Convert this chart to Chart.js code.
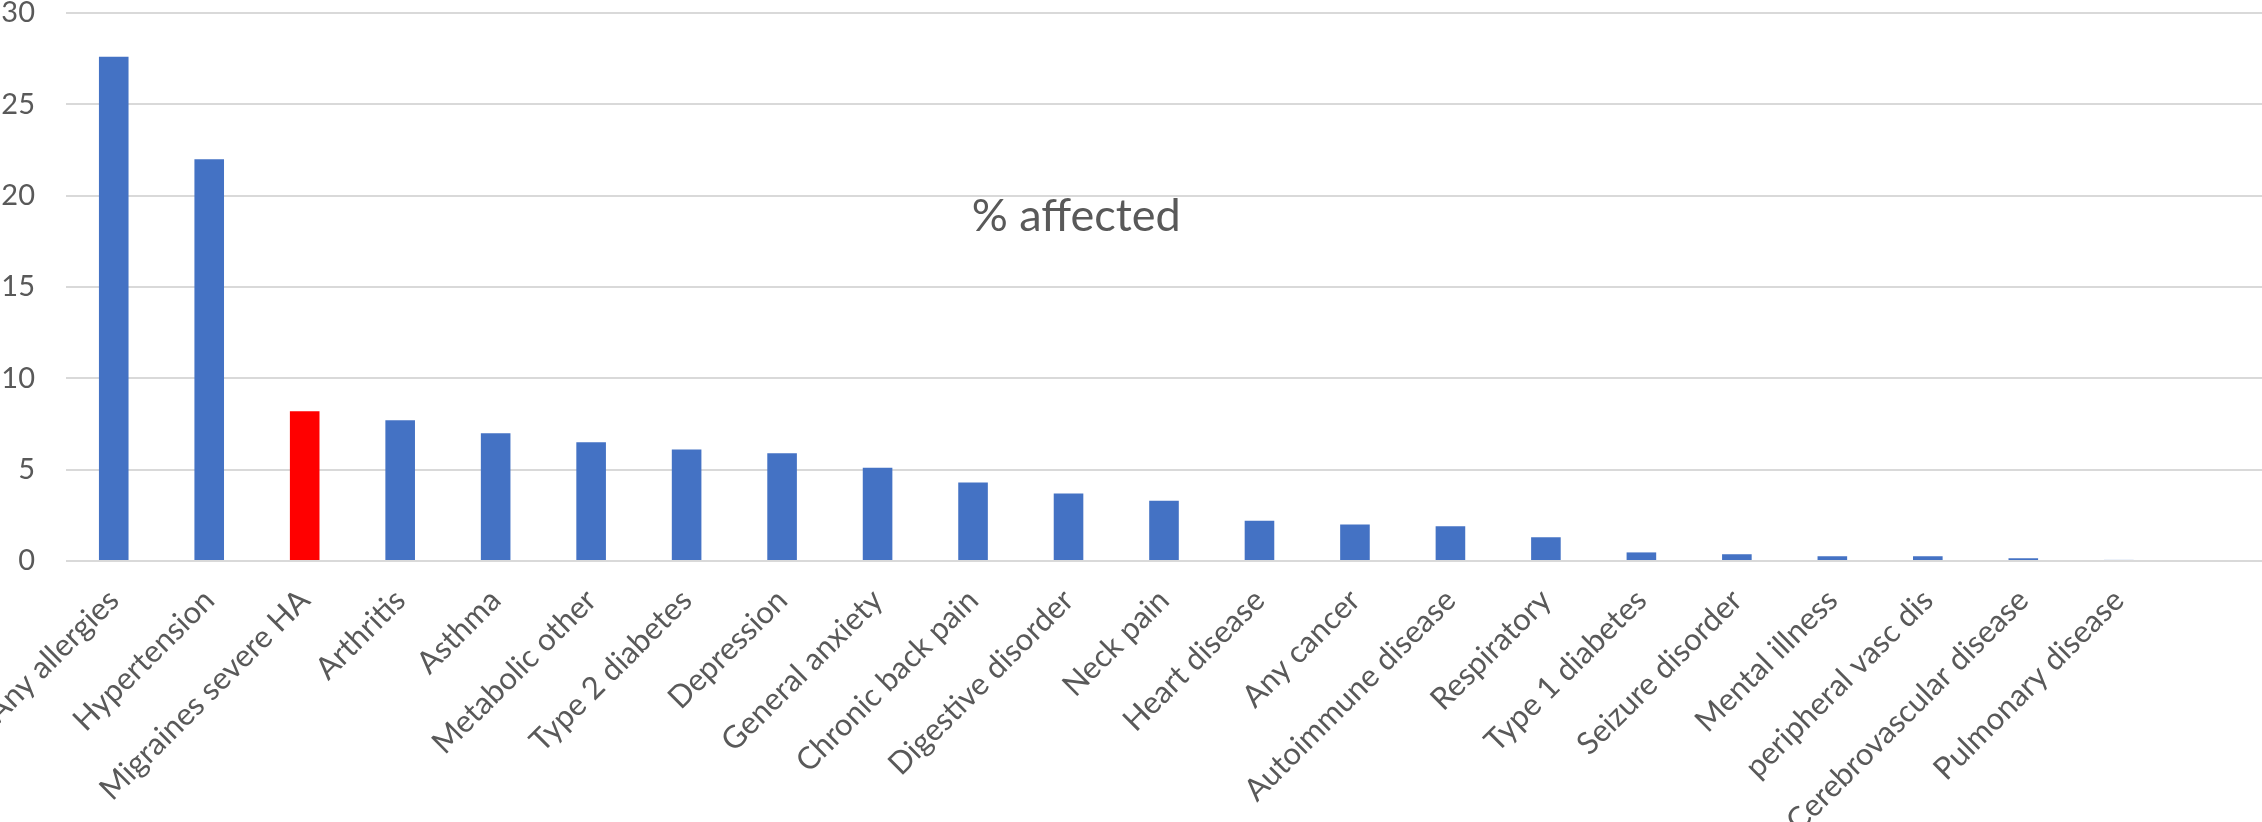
<!DOCTYPE html>
<html>
<head>
<meta charset="utf-8">
<script src="https://cdn.jsdelivr.net/npm/chart.js@4.4.1/dist/chart.umd.min.js"></script>
<style>
  html, body { margin: 0; padding: 0; background: #ffffff; }
  #wrap { width: 2262px; height: 822px; }
</style>
</head>
<body>
<div id="wrap"><canvas id="chart" width="2262" height="822"></canvas></div>
<script>
// Conditions, sorted by share of people affected (the trailing blank slot keeps
// an empty category at the right end of the axis).
const conditions = [
  'Any allergies', 'Hypertension', 'Migraines severe HA', 'Arthritis', 'Asthma',
  'Metabolic other', 'Type 2 diabetes', 'Depression', 'General anxiety',
  'Chronic back pain', 'Digestive disorder', 'Neck pain', 'Heart disease',
  'Any cancer', 'Autoimmune disease', 'Respiratory', 'Type 1 diabetes',
  'Seizure disorder', 'Mental illness', 'peripheral vasc dis',
  'Cerebrovascular disease', 'Pulmonary disease', ''
];

// Percentage of people affected by each condition.
const percentAffected = [
  27.6, 22.0, 8.2, 7.7, 7.0,
  6.5, 6.1, 5.9, 5.1,
  4.3, 3.7, 3.3, 2.2,
  2.0, 1.9, 1.3, 0.47,
  0.37, 0.26, 0.26,
  0.15, 0.06, null
];

// The condition drawn in the accent colour.
const highlighted = ['Migraines severe HA'];

// Value axis range and step.
const yMin = 0;
const yMax = 30;
const yStep = 5;

const chartTitle = '% affected';

const BLUE = '#4472C4';
const RED = '#FF0000';
const TEXT = '#595959';
const GRID = '#D9D9D9';
const FONT = "Lato, 'Open Sans', 'Liberation Sans', sans-serif";

const barColors = conditions.map(c => highlighted.includes(c) ? RED : BLUE);

// Floating caption drawn inside the plot area.
const captionPlugin = {
  id: 'caption',
  afterDraw(chart) {
    const { ctx, chartArea } = chart;
    ctx.save();
    ctx.font = `45px ${FONT}`;
    ctx.fillStyle = TEXT;
    ctx.textAlign = 'center';
    ctx.textBaseline = 'middle';
    const x = chartArea.left + chartArea.width * 0.46;
    const y = chartArea.top + chartArea.height * 0.372;
    ctx.fillText(chartTitle, x, y);
    ctx.restore();
  }
};

new Chart(document.getElementById('chart'), {
  type: 'bar',
  data: {
    labels: conditions,
    datasets: [{
      label: chartTitle,
      data: percentAffected,
      backgroundColor: barColors,
      borderWidth: 0,
      barPercentage: 0.31,
      categoryPercentage: 1.0
    }]
  },
  options: {
    responsive: false,
    animation: false,
    devicePixelRatio: 1,
    layout: { padding: { top: 13, left: 0, right: 0, bottom: 0 } },
    plugins: {
      legend: { display: false },
      title: { display: false },
      tooltip: { enabled: false }
    },
    scales: {
      x: {
        grid: { display: false, drawTicks: false },
        border: { display: false },
        ticks: {
          autoSkip: false,
          minRotation: 45,
          maxRotation: 45,
          padding: 21,
          color: TEXT,
          font: { family: FONT, size: 31 }
        },
        afterFit(scale) {
          scale.height = 261;
          scale.paddingLeft = 0;
          scale.paddingRight = 0;
        }
      },
      y: {
        min: yMin,
        max: yMax,
        grid: { color: GRID, lineWidth: 2, drawTicks: false },
        border: { display: false },
        ticks: {
          stepSize: yStep,
          padding: 31,
          color: TEXT,
          font: { family: FONT, size: 29 }
        },
        afterFit(scale) {
          scale.width = 66;
          scale.paddingTop = 0;
          scale.paddingBottom = 0;
        }
      }
    }
  },
  plugins: [captionPlugin]
});
</script>
</body>
</html>
